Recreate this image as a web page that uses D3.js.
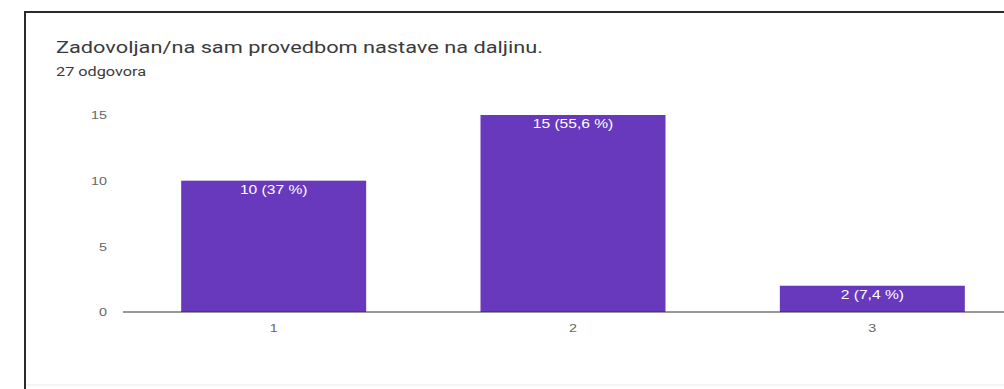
<!DOCTYPE html>
<html>
<head>
<meta charset="utf-8">
<script src="https://cdn.jsdelivr.net/npm/d3@7"></script>
<style>
  html, body { margin: 0; padding: 0; background: #fff; }
  svg { display: block; }
</style>
</head>
<body>
<svg id="chart" width="1004" height="389"></svg>
<script>
// Survey question and answer counts
const question = "Zadovoljan/na sam provedbom nastave na daljinu.";
const totalResponses = 27;
const categories = ["1", "2", "3"];
const counts = [10, 15, 2];
const yTicks = [0, 5, 10, 15];

const hr = d3.formatLocale({ decimal: ",", thousands: ".", grouping: [3], currency: ["", " kn"] });
const pct = hr.format(".1~f");

const svg = d3.select("#chart");
const W = 1004;

// Text in this card is drawn slightly wide
const STRETCH = 1.3;
function place(sel, x, y) {
  sel.attr("transform", `translate(${x},${y}) scale(${STRETCH},1)`);
  return sel;
}

// Card edges (top and left are visible)
const card = svg.append("g").attr("stroke", "#2a2a2a").attr("stroke-width", 2);
card.append("line").attr("x1", 25).attr("x2", W).attr("y1", 12).attr("y2", 12);
card.append("line").attr("x1", 25).attr("x2", 25).attr("y1", 11).attr("y2", 389);
svg.append("line")
  .attr("x1", 26).attr("x2", W).attr("y1", 385).attr("y2", 385)
  .attr("stroke", "#ececec").attr("stroke-width", 1);

// Header
svg.append("text")
  .attr("x", 56).attr("y", 53)
  .attr("font-family", "Roboto, sans-serif")
  .attr("font-size", 16)
  .attr("fill", "#3a3a3c")
  .attr("textLength", 487)
  .attr("lengthAdjust", "spacingAndGlyphs")
  .text(question);

svg.append("text")
  .attr("x", 56).attr("y", 76)
  .attr("font-family", "Roboto, sans-serif")
  .attr("font-size", 12)
  .attr("fill", "#3a3a3c")
  .attr("textLength", 90)
  .attr("lengthAdjust", "spacingAndGlyphs")
  .text(`${totalResponses} odgovora`);

// Scales
const x = d3.scaleBand()
  .domain(categories)
  .range([124, 1022])
  .paddingInner(0.382)
  .paddingOuter(0.191);

const y = d3.scaleLinear()
  .domain([0, 15])
  .range([312, 115]);

const chartFont = "'Liberation Sans', Arial, sans-serif";

// Y axis labels
const yAxis = svg.append("g")
  .call(d3.axisLeft(y).tickValues(yTicks).tickSize(0).tickPadding(0))
  .attr("transform", "translate(107,0)");
yAxis.select(".domain").remove();
yAxis.selectAll(".tick text")
  .attr("font-family", chartFont)
  .attr("font-size", 11)
  .attr("fill", "#666")
  .attr("x", 0)
  .attr("dy", "0.35em")
  .attr("transform", `scale(${STRETCH},1)`);

// Bars
const data = categories.map((c, i) => ({ c, v: counts[i] }));
svg.append("g").selectAll("rect")
  .data(data)
  .join("rect")
  .attr("x", d => x(d.c))
  .attr("y", d => y(d.v))
  .attr("width", x.bandwidth())
  .attr("height", d => y(0) - y(d.v))
  .attr("fill", "#6839bd");

// Baseline
svg.append("line")
  .attr("x1", 123).attr("x2", 1022)
  .attr("y1", y(0)).attr("y2", y(0))
  .attr("stroke", "#333")
  .attr("stroke-width", 1.2);

// X axis labels
const xAxis = svg.append("g")
  .attr("transform", `translate(0,${y(0)})`)
  .call(d3.axisBottom(x).tickSize(0).tickPadding(0));
xAxis.select(".domain").remove();
xAxis.selectAll(".tick text")
  .attr("font-family", chartFont)
  .attr("font-size", 11)
  .attr("fill", "#666")
  .attr("y", 20)
  .attr("dy", 0)
  .attr("transform", `scale(${STRETCH},1)`);

// Value labels inside bars
svg.append("g").selectAll("text")
  .data(data)
  .join("text")
  .attr("font-family", chartFont)
  .attr("font-size", 12)
  .attr("fill", "#fff")
  .attr("text-anchor", "middle")
  .text(d => `${d.v} (${pct(d.v / totalResponses * 100)} %)`)
  .each(function (d) {
    place(d3.select(this), x(d.c) + x.bandwidth() / 2, y(d.v) + 13);
  });
</script>
</body>
</html>
